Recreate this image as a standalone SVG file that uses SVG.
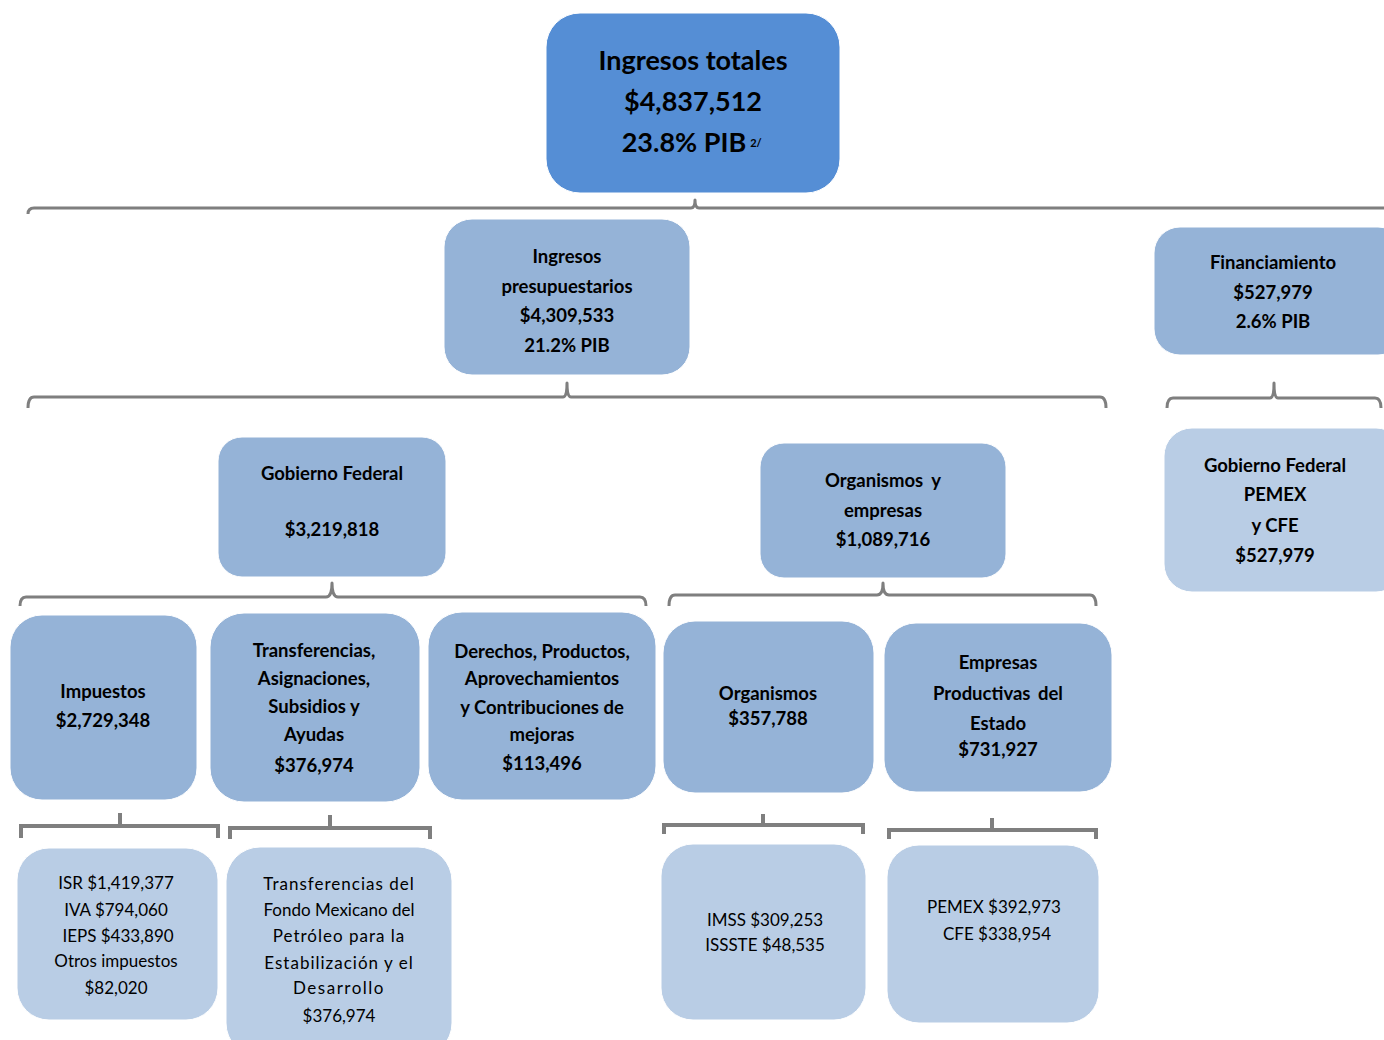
<svg xmlns="http://www.w3.org/2000/svg" width="1384" height="1040" viewBox="0 0 1384 1040">
<style>
.n1{fill:#558ED5;stroke:#ffffff;stroke-width:1}
.n2{fill:#95B3D7;stroke:#ffffff;stroke-width:1}
.n3{fill:#B9CDE5;stroke:#ffffff;stroke-width:1}
.br{fill:none;stroke:#7F7F7F;stroke-width:3;stroke-linejoin:round}
.sq{fill:none;stroke:#7F7F7F;stroke-width:4}
text{font-family:Lato,"Open Sans","Liberation Sans",sans-serif;fill:#000;text-anchor:middle}
.b{font-weight:bold}
.t1{font-size:27px;font-weight:bold}
.t2{font-size:18.5px;font-weight:bold}
.t3{font-size:17px}
</style>
<rect width="1384" height="1040" fill="#ffffff"/>
<g id="connectors">
<path class="br" d="M28,214 Q28,208 34,208 H691 Q695,208 695,200 Q695,208 699,208 H1384"/>
<path class="br" d="M28,408 Q28,397 34,397 H563 Q567,397 567,383 Q567,397 571,397 H1100 Q1106,397 1106,408"/>
<path class="br" d="M1167,408 Q1167,398 1173,398 H1270 Q1274,398 1274,383 Q1274,398 1278,398 H1375 Q1381,398 1381,408"/>
<path class="br" d="M20,606 Q20,597 26,597 H326 Q332,597 332,583 Q332,597 338,597 H640 Q646,597 646,606"/>
<path class="br" d="M669,606 Q669,595 675,595 H877 Q883,595 883,583 Q883,595 889,595 H1090 Q1096,595 1096,606"/>
<path class="sq" d="M21,838 V826 H218 V838 M120,826 V813"/>
<path class="sq" d="M230,839 V828 H430 V839 M330,828 V815"/>
<path class="sq" d="M664,834 V825 H863 V834 M763,825 V814"/>
<path class="sq" d="M889,839 V830 H1096 V839 M992,830 V818"/>
</g>
<g id="ingresos-totales">
<rect class="n1" x="546" y="13" width="294" height="180" rx="34"/>
<text class="t1" x="693" y="70">Ingresos totales</text>
<text class="t1" x="693" y="111">$4,837,512</text>
<text class="t1" x="684" y="152">23.8% PIB</text>
<text class="b" x="756" y="147" style="font-size:11px">2/</text>
</g>
<g id="ingresos-presupuestarios">
<rect class="n2" x="444" y="219" width="246" height="156" rx="28"/>
<text class="t2" x="567" y="263">Ingresos</text>
<text class="t2" x="567" y="293">presupuestarios</text>
<text class="t2" x="567" y="322">$4,309,533</text>
<text class="t2" x="567" y="352">21.2% PIB</text>
</g>
<g id="financiamiento">
<rect class="n2" x="1154" y="227" width="250" height="128" rx="26"/>
<text class="t2" x="1273" y="269">Financiamiento</text>
<text class="t2" x="1273" y="299">$527,979</text>
<text class="t2" x="1273" y="328">2.6% PIB</text>
</g>
<g id="gf-pemex-cfe">
<rect class="n3" x="1164" y="428" width="240" height="164" rx="28"/>
<text class="t2" x="1275" y="472">Gobierno Federal</text>
<text class="t2" x="1275" y="501">PEMEX</text>
<text class="t2" x="1275" y="532">y CFE</text>
<text class="t2" x="1275" y="562">$527,979</text>
</g>
<g id="gobierno-federal">
<rect class="n2" x="218" y="437" width="228" height="140" rx="24"/>
<text class="t2" x="332" y="480">Gobierno Federal</text>
<text class="t2" x="332" y="536">$3,219,818</text>
</g>
<g id="organismos-empresas">
<rect class="n2" x="760" y="443" width="246" height="135" rx="24"/>
<text class="t2" x="883" y="487" style="word-spacing:4px">Organismos y</text>
<text class="t2" x="883" y="517">empresas</text>
<text class="t2" x="883" y="546">$1,089,716</text>
</g>
<g id="impuestos">
<rect class="n2" x="10" y="615" width="187" height="185" rx="32"/>
<text class="t2" x="103" y="698">Impuestos</text>
<text class="t2" x="103" y="727">$2,729,348</text>
</g>
<g id="transferencias">
<rect class="n2" x="210" y="613" width="210" height="189" rx="34"/>
<text class="t2" x="314" y="657">Transferencias,</text>
<text class="t2" x="314" y="685">Asignaciones,</text>
<text class="t2" x="314" y="713">Subsidios y</text>
<text class="t2" x="314" y="741">Ayudas</text>
<text class="t2" x="314" y="772">$376,974</text>
</g>
<g id="derechos">
<rect class="n2" x="428" y="612" width="228" height="188" rx="34"/>
<text class="t2" x="542" y="658">Derechos, Productos,</text>
<text class="t2" x="542" y="685">Aprovechamientos</text>
<text class="t2" x="542" y="714">y Contribuciones de</text>
<text class="t2" x="542" y="741">mejoras</text>
<text class="t2" x="542" y="770">$113,496</text>
</g>
<g id="organismos">
<rect class="n2" x="663" y="621" width="211" height="172" rx="32"/>
<text class="t2" x="768" y="700">Organismos</text>
<text class="t2" x="768" y="725">$357,788</text>
</g>
<g id="empresas">
<rect class="n2" x="884" y="623" width="228" height="169" rx="32"/>
<text class="t2" x="998" y="669">Empresas</text>
<text class="t2" x="998" y="700" style="word-spacing:3px">Productivas del</text>
<text class="t2" x="998" y="730">Estado</text>
<text class="t2" x="998" y="756">$731,927</text>
</g>
<g id="isr-iva-ieps">
<rect class="n3" x="17" y="848" width="201" height="172" rx="32"/>
<text class="t3" x="116" y="889">ISR $1,419,377</text>
<text class="t3" x="116" y="916">IVA $794,060</text>
<text class="t3" x="118" y="942">IEPS $433,890</text>
<text class="t3" x="116" y="967">Otros impuestos</text>
<text class="t3" x="116" y="994">$82,020</text>
</g>
<g id="fondo-mexicano">
<rect class="n3" x="226" y="847" width="226" height="210" rx="34"/>
<text class="t3" x="339" y="890" style="letter-spacing:1px">Transferencias del</text>
<text class="t3" x="339" y="916">Fondo Mexicano del</text>
<text class="t3" x="339" y="942" style="letter-spacing:1px">Petróleo para la</text>
<text class="t3" x="339" y="969" style="letter-spacing:1px">Estabilización y el</text>
<text class="t3" x="339" y="994" style="letter-spacing:1.5px">Desarrollo</text>
<text class="t3" x="339" y="1022">$376,974</text>
</g>
<g id="imss-issste">
<rect class="n3" x="661" y="844" width="205" height="176" rx="32"/>
<text class="t3" x="765" y="926">IMSS $309,253</text>
<text class="t3" x="765" y="951">ISSSTE $48,535</text>
</g>
<g id="pemex-cfe">
<rect class="n3" x="887" y="845" width="212" height="178" rx="32"/>
<text class="t3" x="994" y="913">PEMEX $392,973</text>
<text class="t3" x="997" y="940">CFE $338,954</text>
</g>
</svg>
